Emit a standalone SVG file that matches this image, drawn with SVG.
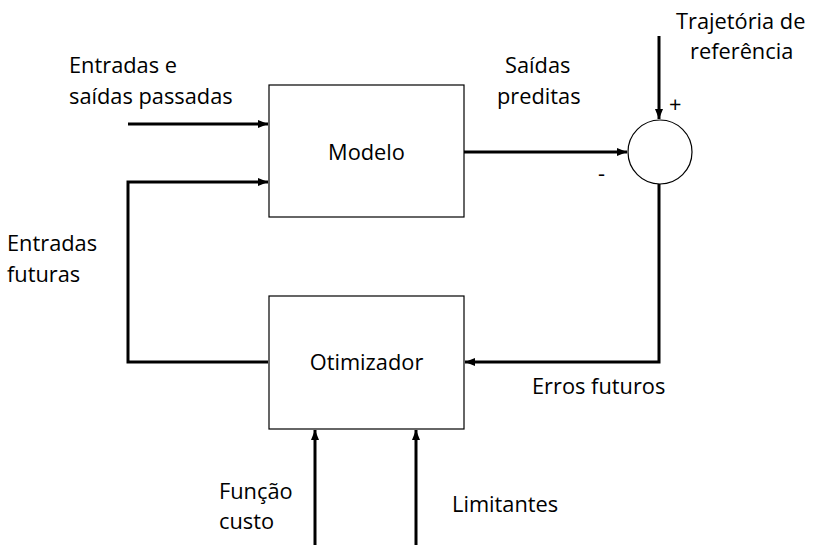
<svg xmlns="http://www.w3.org/2000/svg" width="820" height="559" viewBox="0 0 820 559">
<defs>
<style>
.box{fill:#fff;stroke:#000;stroke-width:1.2}
.ln{fill:none;stroke:#000;stroke-width:3}
text{font-family:"Open Sans","Liberation Sans",sans-serif;font-size:21.8px;fill:#000}
</style>
<marker id="ah" viewBox="0 0 10 8" refX="10" refY="4" markerWidth="10" markerHeight="8" markerUnits="userSpaceOnUse" orient="auto">
<path d="M0,0 L10,4 L0,8 Z" fill="#000"/>
</marker>
</defs>
<rect width="820" height="559" fill="#fff"/>
<g id="connectors">
<path class="ln" d="M128,124 H268" marker-end="url(#ah)"/>
<path class="ln" d="M268,362 H128 V182 H268" marker-end="url(#ah)"/>
<path class="ln" d="M464,152 H627" marker-end="url(#ah)"/>
<path class="ln" d="M659,36 V119" marker-end="url(#ah)"/>
<path class="ln" d="M659,184 V362 H465" marker-end="url(#ah)"/>
<path class="ln" d="M315,545 V430" marker-end="url(#ah)"/>
<path class="ln" d="M416,545 V430" marker-end="url(#ah)"/>
</g>
<g id="modelo">
<rect class="box" x="269" y="85" width="195" height="132"/>
<text x="366.5" y="160" text-anchor="middle">Modelo</text>
</g>
<g id="otimizador">
<rect class="box" x="269" y="296" width="195" height="133"/>
<text x="366.5" y="370" text-anchor="middle">Otimizador</text>
</g>
<g id="somador">
<circle cx="660" cy="152" r="32" fill="#fff" stroke="#000" stroke-width="1.2"/>
<text x="669" y="112">+</text>
<text x="598" y="181">-</text>
</g>
<g id="labels">
<text x="69" y="73">Entradas e</text>
<text x="69" y="104">saídas passadas</text>
<text x="505" y="73">Saídas</text>
<text x="497" y="104">preditas</text>
<text x="676" y="29">Trajetória de</text>
<text x="690" y="59">referência</text>
<text x="7" y="251">Entradas</text>
<text x="7" y="282">futuras</text>
<text x="532" y="394">Erros futuros</text>
<text x="219" y="499">Função</text>
<text x="219" y="529">custo</text>
<text x="452" y="512">Limitantes</text>
</g>
</svg>
